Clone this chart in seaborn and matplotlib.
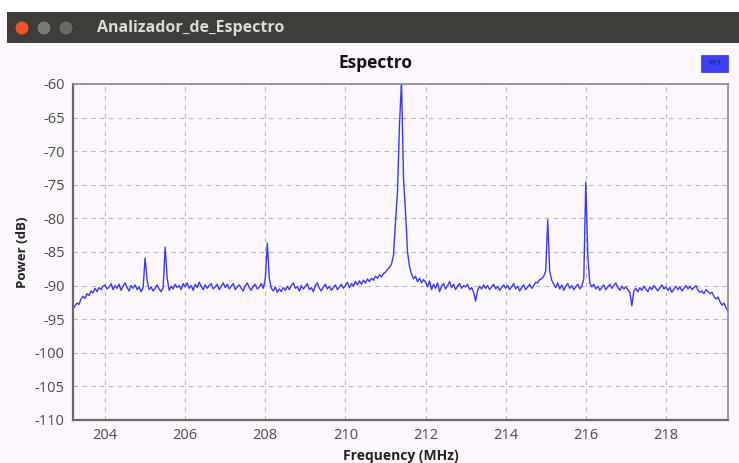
import numpy as np
import pandas as pd
import seaborn as sns
import matplotlib.pyplot as plt
from matplotlib.patches import Rectangle, Ellipse


## data (0.05 MHz steps, 203.20 -> 219.55)

freq_start = 203.20
freq_step = 0.05

power_2030 = [-93.5, -93.0, -92.6, -92.8, -92.0, -91.6, -91.9, -91.2,
              -91.5, -90.8, -91.1, -90.4, -90.9, -90.3, -90.6, -90.1]
power_204 = [-89.9, -90.5, -90.2, -89.7, -90.6, -90.0, -90.4, -89.8, -90.7, -90.1,
             -89.6, -90.3, -90.8, -90.0, -90.4, -89.9, -90.6, -90.2, -90.9, -90.3]
power_205 = [-85.9, -89.2, -90.6, -90.2, -90.8, -90.4, -89.9, -90.5, -90.9, -90.3,
             -84.3, -88.8, -90.7, -90.1, -90.5, -89.8, -90.3, -90.0, -90.6, -89.7]
power_206 = [-90.2, -89.6, -90.4, -90.0, -90.7, -89.8, -90.3, -89.5, -90.1, -90.6,
             -89.9, -90.4, -90.0, -89.7, -90.5, -90.2, -89.8, -90.6, -90.1, -89.6]
power_207 = [-90.3, -89.8, -90.5, -90.1, -89.7, -90.6, -90.2, -89.9, -90.4, -90.8,
             -90.0, -89.6, -90.3, -90.7, -90.1, -89.8, -90.5, -90.2, -89.7, -90.4]
power_208 = [-89.0, -83.7, -88.9, -90.4, -90.8, -90.2, -91.0, -90.5, -90.9, -90.3,
             -90.7, -90.1, -90.6, -90.0, -89.6, -90.4, -90.2, -90.8, -90.0, -90.5]
power_209 = [-90.1, -89.7, -90.6, -90.3, -90.9, -90.0, -89.6, -90.4, -90.8, -90.2,
             -89.8, -90.5, -90.1, -90.7, -90.3, -89.9, -90.6, -90.2, -89.8, -90.4]
power_210 = [-90.0, -89.5, -90.3, -89.7, -90.1, -89.4, -89.9, -89.3, -89.8, -89.2,
             -89.6, -89.0, -89.4, -88.9, -89.2, -88.6, -88.9, -88.4, -88.7, -88.2]
power_211 = [-88.0, -87.6, -87.3, -86.8, -85.5, -80.5, -76.0, -66.0, -59.5, -74.0,
             -79.0, -85.0, -87.2, -88.3, -89.0, -88.6, -89.4, -88.9, -89.6, -89.1]
power_212 = [-89.5, -90.2, -89.3, -90.6, -89.8, -90.4, -89.6, -90.9, -90.1, -89.7,
             -90.5, -90.0, -89.4, -90.3, -89.8, -90.6, -90.1, -89.7, -90.4, -90.0]
power_213 = [-90.2, -89.8, -90.6, -90.3, -91.0, -92.3, -90.7, -90.1, -90.5, -89.9,
             -90.4, -90.0, -90.6, -90.2, -89.8, -90.5, -90.1, -90.7, -90.3, -89.9]
power_214 = [-90.4, -90.0, -90.6, -90.2, -89.7, -90.5, -90.1, -90.8, -90.3, -89.9,
             -90.6, -90.2, -89.8, -90.4, -90.0, -89.5, -89.6, -89.1, -89.0, -88.6]
power_215 = [-87.8, -80.2, -87.9, -89.2, -89.8, -90.3, -89.6, -90.5, -89.9, -90.7,
             -90.1, -89.7, -90.4, -90.0, -90.6, -90.2, -89.8, -90.5, -90.1, -89.0]
power_216 = [-74.6, -85.5, -89.6, -90.2, -89.8, -90.5, -90.1, -90.7, -90.3, -89.9,
             -90.6, -90.2, -89.8, -90.4, -90.0, -89.6, -90.3, -90.7, -90.1, -90.5]
power_217 = [-90.2, -90.6, -91.0, -93.0, -90.8, -90.4, -90.9, -90.3, -90.7, -90.1,
             -90.5, -90.9, -90.2, -90.6, -90.0, -90.4, -90.8, -90.3, -89.9, -90.5]
power_218 = [-90.2, -90.7, -90.3, -91.0, -90.5, -90.1, -90.6, -90.2, -90.8, -90.4,
             -90.0, -90.5, -90.1, -90.6, -90.3, -90.0, -90.7, -91.0, -90.8, -91.2]
power_219 = [-90.6, -90.9, -91.2, -91.0, -91.6, -92.0, -91.7, -92.4, -92.9, -92.6,
             -93.3, -93.8]

x_ticks = [204, 206, 208, 210, 212, 214, 216, 218]
y_ticks = [-110, -105, -100, -95, -90, -85, -80, -75, -70, -65, -60]

power = (power_2030 + power_204 + power_205 + power_206 + power_207 + power_208
         + power_209 + power_210 + power_211 + power_212 + power_213 + power_214
         + power_215 + power_216 + power_217 + power_218 + power_219)
freq = np.round(freq_start + freq_step * np.arange(len(power)), 2)
df = pd.DataFrame({"Frequency (MHz)": freq, "Power (dB)": power})


## plotting

sns.set_theme(style="white")
plt.rcParams['font.family'] = ['Open Sans', 'DejaVu Sans']
plt.rcParams['axes.unicode_minus'] = False

bg = '#fcf7fc'
fig = plt.figure(figsize=(7.39, 4.63), dpi=100, facecolor=bg)

# window decoration (screenshot title bar)
W, H = 739, 463
fig.patches.append(Rectangle((0, 1 - 12 / H), 1, 12 / H, transform=fig.transFigure,
                             facecolor='white', edgecolor='none'))
fig.patches.append(Rectangle((7 / W, 1 - 43 / H), 1, 31 / H, transform=fig.transFigure,
                             facecolor='#3e3d39', edgecolor='none'))
for cx, col in [(22, '#e7552a'), (44, '#7a7872'), (66, '#6b6964')]:
    fig.patches.append(Ellipse((cx / W, 1 - 28 / H), 14 / W, 14 / H, transform=fig.transFigure,
                               facecolor=col, edgecolor='#2e2d2a', lw=0.5))
fig.text(97 / W, 1 - 28 / H, "Analizador_de_Espectro", color='#dedbd3',
         fontsize=11.5, fontweight='bold', va='center', ha='left')

ax = fig.add_axes([73 / W, 1 - 420 / H, (728 - 73) / W, (420 - 84) / H])
ax.set_facecolor(bg)

sns.lineplot(data=df, x="Frequency (MHz)", y="Power (dB)", ax=ax,
             color='#3a3af2', lw=1.0, estimator=None, sort=False)

ax.set_xlim(203.2, 219.55)
ax.set_ylim(-110, -60)
ax.set_xticks(x_ticks)
ax.set_yticks(y_ticks)
ax.grid(True, color='#b9b6b9', lw=0.8, ls=(0, (4, 4)))
ax.tick_params(length=0, labelsize=10.5, labelcolor='#4a4a4a', pad=6)

for side in ['left', 'bottom']:
    ax.spines[side].set_color('#6a686a')
    ax.spines[side].set_linewidth(1.6)
for side in ['top', 'right']:
    ax.spines[side].set_color('#8a888a')
    ax.spines[side].set_linewidth(1.2)

ax.set_xlabel("Frequency (MHz)", fontsize=10, fontweight='bold', color='#222222', labelpad=4)
ax.set_ylabel("Power (dB)", fontsize=9.5, fontweight='bold', color='#222222', labelpad=4)
fig.text(375 / W, 1 - 63 / H, "Espectro", fontsize=12.5, fontweight='bold',
         color='#111111', ha='center', va='center')

# legend marker "FFT"
fig.patches.append(Rectangle((701 / W, 1 - 72 / H), 27 / W, 17 / H, transform=fig.transFigure,
                             facecolor='#3f3ff5', edgecolor='#3030c0', lw=0.5))
fig.text(714.5 / W, 1 - 63.5 / H, "FFT", fontsize=6, color='#1a1a60',
         ha='center', va='center')

plt.savefig("out.png", dpi=100, facecolor=bg)
